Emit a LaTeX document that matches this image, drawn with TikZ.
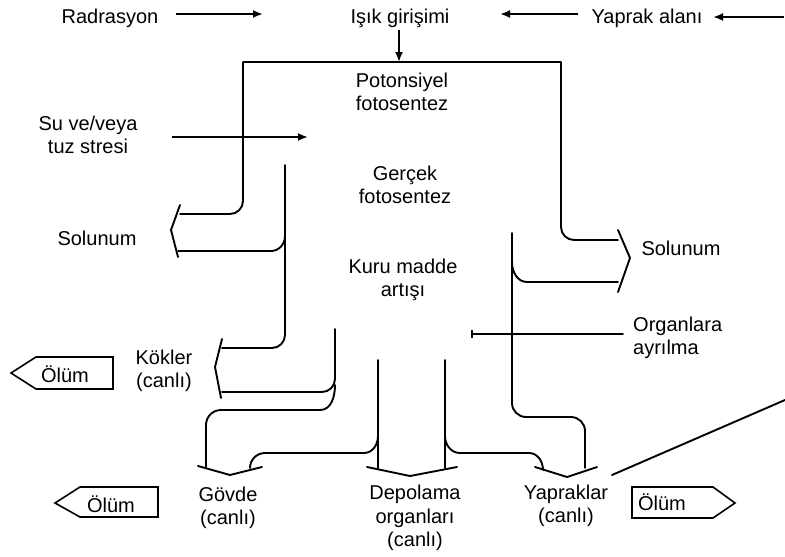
\documentclass[tikz,border=0pt]{standalone}
\usepackage{fontspec}
\setmainfont{Liberation Sans}
\usetikzlibrary{arrows.meta,calc}
\begin{document}
\begin{tikzpicture}[x=1pt,y=-1pt,
  lbl/.style={font=\fontsize{20}{23.5}\selectfont, inner sep=0pt, align=center},
  pipe/.style={line width=1.9pt, line join=round, line cap=round},
  arr/.style={line width=1.9pt, -{Latex[length=10pt,width=8pt]}},
  olum/.style={line width=1.6pt, line join=miter},
]
\useasboundingbox (0,0) rectangle (785,557);
% text nodes
\node[lbl] (rad) at (110,18) {Radrasyon};
\node[lbl] (isik) at (400,18) {Işık girişimi};
\node[lbl] (yap) at (647,18) {Yaprak alanı};
\node[lbl] (pot) at (402,92) {Potonsiyel\\fotosentez};
\node[lbl] (su) at (88,135) {Su ve/veya\\tuz stresi};
\node[lbl] (ger) at (405,185) {Gerçek\\fotosentez};
\node[lbl] (sol1) at (97,238) {Solunum};
\node[lbl] (kuru) at (403,280) {Kuru madde\\artışı};
\node[lbl] (sol2) at (681,248) {Solunum};
\node[lbl, align=left, anchor=west] (org) at (633,338) {Organlara\\ayrılma};
\node[lbl] (kok) at (164,371) {Kökler\\(canlı)};
\node[lbl] (gov) at (228,508) {Gövde\\(canlı)};
\node[lbl] (dep) at (415,518) {Depolama\\organları\\(canlı)};
\node[lbl] (ypr) at (566,506) {Yapraklar\\(canlı)};

% named coordinates
\coordinate (radA) at (176,14);
\coordinate (radB) at (263,14);
\coordinate (yapA) at (578,14);
\coordinate (yapB) at (500,14);
\coordinate (edgeA) at (784,17);
\coordinate (edgeB) at (713,17);
\coordinate (isikA) at (399,30);
\coordinate (isikB) at (399,62);
\coordinate (suA) at (172,137);
\coordinate (suB) at (308,137);

% input arrows
\draw[arr] (radA) -- (radB);
\draw[arr] (yapA) -- (yapB);
\draw[arr] (edgeA) -- (edgeB);
\draw[arr] (isikA) -- (isikB);

% outer frame with two respiration outlets
\draw[pipe] (180,214) [rounded corners=13pt] -- (243,214) -- (243,150) [sharp corners] -- (243,62) -- (561,62) -- (561,150) [rounded corners=13pt] -- (561,240) -- (618,240);
\draw[arr] (suA) -- (suB);

% left inner line
\draw[pipe] (285,165) -- (285,300) [rounded corners=13pt] -- (285,348) -- (222,348);
\draw[pipe] (285,236) to[out=-90,in=0] (271,251) -- (178,251);
% left respiration head
\draw[pipe] (180,205) -- (171,230) -- (178,257);
% Kokler head
\draw[pipe] (222,339) -- (215,367) -- (221,398);
% second line (x=335)
\draw[pipe] (335,329) -- (335,360) [rounded corners=13pt] -- (335,392) -- (222,392);
\draw[pipe] (335,385) to[out=-90,in=0] (320,410) -- (221,410) to[out=180,in=90] (206,425) -- (206,467);
% Govde head
\draw[pipe] (198,466) -- (230,475) -- (262,467);
% depot left vertical
\draw[pipe] (378,360) -- (378,468);
\draw[pipe] (378,436) to[out=-90,in=0] (364,453) -- (265,453) to[out=180,in=90] (250,468);
% depot head
\draw[pipe] (367,467) -- (410,476) -- (457,467);
% depot right vertical
\draw[pipe] (445,360) -- (445,468);
\draw[pipe] (445,436) to[out=-90,in=180] (460,453) -- (529,453) to[out=0,in=90] (543,470);
% main right line
\draw[pipe] (512,233) -- (512,380) [rounded corners=14pt] -- (512,417) -- (585,417) -- (585,468);
\draw[pipe] (512,262) to[out=-90,in=180] (527,282) -- (618,282);
% right respiration head
\draw[pipe] (618,230) -- (630,258) -- (618,292);
% Yapraklar head
\draw[pipe] (535,467) -- (567,477) -- (597,467);
% Organlara ayrilma
\coordinate (orgA) at (472,334);
\coordinate (orgB) at (623,334);
\draw[pipe] (orgA) -- (orgB);
\draw[line width=2.4pt] ($(orgA)+(0,-4)$) -- ($(orgA)+(0,4)$);
% diagonal line
\coordinate (diagA) at (612,475);
\coordinate (diagB) at (785,400);
\draw[pipe] (diagA) -- (diagB);

% Olum boxes
\draw[olum] (36,357) -- (113,357) -- (113,389) -- (36,389) -- (11,373) -- cycle;
\node[lbl] (ol1) at (65,374) {Ölüm};
\draw[olum] (80,487) -- (158,487) -- (158,517) -- (80,517) -- (55,503) -- cycle;
\node[lbl] (ol2) at (111,504) {Ölüm};
\draw[olum] (632,487) -- (713,487) -- (735,503) -- (713,518) -- (632,518) -- cycle;
\node[lbl] (ol3) at (662,502) {Ölüm};
\end{tikzpicture}
\end{document}
